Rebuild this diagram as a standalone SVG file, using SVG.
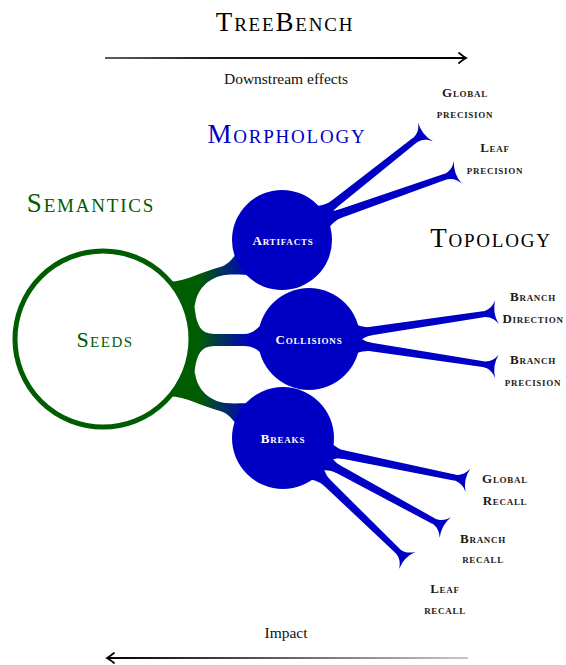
<svg xmlns="http://www.w3.org/2000/svg" width="566" height="665" viewBox="0 0 566 665">
<style>
text{font-family:"Liberation Serif","Times New Roman",serif;font-variant:small-caps;text-anchor:middle}
.h{font-size:27px;letter-spacing:1.8px}
.lab{font-size:13px;font-weight:bold;letter-spacing:0.7px;fill:#1e1a16}
.node{font-size:13px;font-weight:bold;letter-spacing:0.8px;fill:#ffffff}
.plain{font-variant:normal;font-size:15.5px;fill:#111}
.blue{fill:#0000c4}
.ax{fill:none;stroke-width:1.8}
</style>
<defs>
<linearGradient id="gb" gradientUnits="userSpaceOnUse" x1="198" y1="0" x2="250" y2="0"><stop offset="0" stop-color="#005c00"/><stop offset="1" stop-color="#0000c4"/></linearGradient>
<linearGradient id="gt" gradientUnits="userSpaceOnUse" x1="105" y1="0" x2="466" y2="0"><stop offset="0" stop-color="#606060"/><stop offset="0.3" stop-color="#1a1a1a"/><stop offset="1" stop-color="#000"/></linearGradient>
<linearGradient id="gd" gradientUnits="userSpaceOnUse" x1="107" y1="0" x2="468" y2="0"><stop offset="0" stop-color="#000"/><stop offset="1" stop-color="#c8c8c8"/></linearGradient>
<marker id="ah" markerUnits="userSpaceOnUse" markerWidth="12" markerHeight="14" refX="0" refY="0" viewBox="-10 -7 12 14" orient="auto" overflow="visible"><path d="M-7,-5 Q-2,-1 0,0 Q-2,1 -7,5" fill="none" stroke="#000" stroke-width="1.8" stroke-linecap="round"/></marker>
<path id="fil" d="M-8,12 C0,9 4,4.5 14,4 L14,-4 C4,-4.5 0,-9 -8,-12 Z"/>
<path id="tip" d="M-13,-2.8 C-5,-3 -1,-7 2,-12 Q-3,0 2,12 C-1,7 -5,3 -13,2.8 Z"/>
<path id="br" d="M163,281 C180,285 200,272 220,267 C228,265 233,258 238,252 L252,275 C244,275 236,274 225,275 C210,277 197,288 195,305 L183,312 Z"/>
</defs>

<g id="connectors">
  <line class="ax" x1="105" y1="58" x2="466" y2="58" stroke="url(#gt)" marker-end="url(#ah)"/>
  <line class="ax" x1="468" y1="658" x2="107" y2="658" stroke="url(#gd)" marker-end="url(#ah)"/>
  <use href="#br" fill="url(#gb)"/>
  <path fill="url(#gb)" d="M182,302 L194,300 C195,315 197,328 205,332 C210,334 214,334 220,334 L244,334 C252,334 256,330 264,322 L264,356 C256,348 252,346 244,346 L220,346 C214,346 210,346 205,348 C197,352 195,365 194,378 L182,376 Z"/>
  <use href="#br" fill="url(#gb)" transform="matrix(1,0,0,-1,0,678)"/>
  <g class="blue" transform="translate(324,212) rotate(-38.3)"><use href="#fil"/><path d="M10,-4.3 L115.4,-3 L115.4,3 L10,4.3Z"/><use href="#tip" x="127.4"/></g>
  <g class="blue" transform="translate(328,218) rotate(-19.4)"><use href="#fil"/><path d="M10,-4.3 L123.7,-3 L123.7,3 L10,4.3Z"/><use href="#tip" x="135.7"/></g>
  <g class="blue" transform="translate(358,333) rotate(-8.5)"><use href="#fil"/><path d="M10,-4.3 L126.5,-3 L126.5,3 L10,4.3Z"/><use href="#tip" x="138.5"/></g>
  <g class="blue" transform="translate(358,345) rotate(8.7)"><use href="#fil"/><path d="M10,-4.3 L126.6,-3 L126.6,3 L10,4.3Z"/><use href="#tip" x="138.6"/></g>
  <g class="blue" transform="translate(331,452) rotate(11.7)"><use href="#fil"/><path d="M10,-4.3 L125.9,-3 L125.9,3 L10,4.3Z"/><use href="#tip" x="137.9"/></g>
  <g class="blue" transform="translate(327,463) rotate(28.6)"><use href="#fil"/><path d="M10,-4.3 L120.9,-3 L120.9,3 L10,4.3Z"/><use href="#tip" x="132.9"/></g>
  <g class="blue" transform="translate(318,474) rotate(44)"><use href="#fil"/><path d="M10,-4.3 L110.3,-3 L110.3,3 L10,4.3Z"/><use href="#tip" x="122.3"/></g>
</g>

<g id="seeds">
  <circle cx="103" cy="339" r="88" fill="#ffffff" stroke="#005c00" stroke-width="5"/>
  <text x="105" y="347" style="font-size:22px;letter-spacing:1.5px" fill="#005c00">Seeds</text>
</g>
<g id="artifacts">
  <circle cx="282" cy="240" r="50" class="blue"/>
  <text class="node" x="283" y="245">Artifacts</text>
</g>
<g id="collisions">
  <circle cx="309" cy="339" r="51" class="blue"/>
  <text class="node" x="309" y="344">Collisions</text>
</g>
<g id="breaks">
  <circle cx="283" cy="438" r="51" class="blue"/>
  <text class="node" x="283" y="443">Breaks</text>
</g>

<g id="titles">
  <text class="h" x="285" y="31" fill="#000">TreeBench</text>
  <text class="plain" x="286" y="84">Downstream effects</text>
  <text class="h" x="287" y="143" fill="#0000c4">Morphology</text>
  <text class="h" x="91" y="212" fill="#005c00">Semantics</text>
  <text class="h" x="491" y="247" fill="#000">Topology</text>
  <text class="plain" x="286" y="638">Impact</text>
</g>

<g id="global-precision"><text class="lab"><tspan x="465" y="97">Global</tspan><tspan x="465" y="118">precision</tspan></text></g>
<g id="leaf-precision"><text class="lab"><tspan x="495" y="152">Leaf</tspan><tspan x="495" y="174">precision</tspan></text></g>
<g id="branch-direction"><text class="lab"><tspan x="533" y="301">Branch</tspan><tspan x="533" y="323">Direction</tspan></text></g>
<g id="branch-precision"><text class="lab"><tspan x="533" y="364">Branch</tspan><tspan x="533" y="386">precision</tspan></text></g>
<g id="global-recall"><text class="lab"><tspan x="505" y="483">Global</tspan><tspan x="505" y="505">Recall</tspan></text></g>
<g id="branch-recall"><text class="lab"><tspan x="483" y="543">Branch</tspan><tspan x="483" y="563">recall</tspan></text></g>
<g id="leaf-recall"><text class="lab"><tspan x="445" y="593">Leaf</tspan><tspan x="445" y="614">recall</tspan></text></g>
</svg>
